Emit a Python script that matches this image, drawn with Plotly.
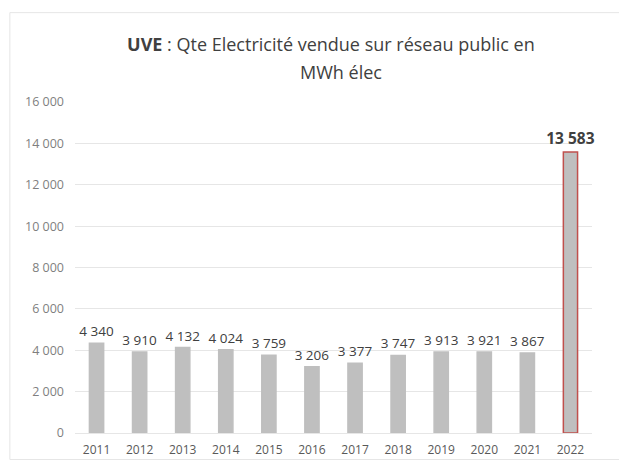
import plotly.graph_objects as go

years = ["2011", "2012", "2013", "2014", "2015", "2016", "2017", "2018",
         "2019", "2020", "2021", "2022"]
mwh = [4340, 3910, 4132, 4024, 3759, 3206, 3377, 3747, 3913, 3921, 3867, 13583]
y_ticks = [0, 2000, 4000, 6000, 8000, 10000, 12000, 14000, 16000]

last = len(years) - 1
line_colors = ["#bfbfbf"] * last + ["#c0504d"]
label_sizes = [13.5] * last + [15.5]
labels = [f"{v:,}".replace(",", " ") for v in mwh]
labels[-1] = f"<b>{labels[-1]}</b>"

fig = go.Figure()
fig.add_trace(go.Bar(
    x=years, y=mwh,
    marker=dict(color="#bfbfbf", line=dict(color=line_colors, width=1.5)),
    text=labels, textposition="outside", cliponaxis=False,
    constraintext="none",
    textfont=dict(size=label_sizes, color="#404040"),
    width=0.33,
))

# margins compensate for the 8px body margin of the html page
fig.update_layout(
    width=627, height=463,
    margin=dict(l=67, r=43, t=94, b=38),
    paper_bgcolor="white", plot_bgcolor="white",
    font=dict(family="Open Sans", color="#595959"),
    separators=", ",
    title=dict(
        text="<b>UVE</b> : Qte Electricité vendue sur réseau public en",
        x=0.515, xanchor="center", y=0.92, yanchor="middle",
        font=dict(size=18, color="#404040"),
    ),
    annotations=[dict(text="MWh élec", xref="paper", yref="paper",
                      x=0.515, y=1.09, xanchor="center", yanchor="middle",
                      showarrow=False, font=dict(size=18, color="#404040"))],
    showlegend=False,
    shapes=[dict(type="rect", xref="paper", yref="paper", x0=-0.126, x1=1.055,
                 y0=-0.08, y1=1.27, line=dict(color="#e6e6e6", width=1))],
)
fig.update_yaxes(range=[0, 16000], tickvals=y_ticks, tickformat=",",
                 showgrid=True, gridcolor="#e6e6e6", zeroline=False,
                 tickfont=dict(size=12.5, color="#7f7f7f"), ticks="",
                 ticklabelstandoff=10)
fig.update_xaxes(tickfont=dict(size=12, color="#595959"), showline=True,
                 linecolor="#e6e6e6", ticklabelstandoff=6)

fig.write_html("out.html")
